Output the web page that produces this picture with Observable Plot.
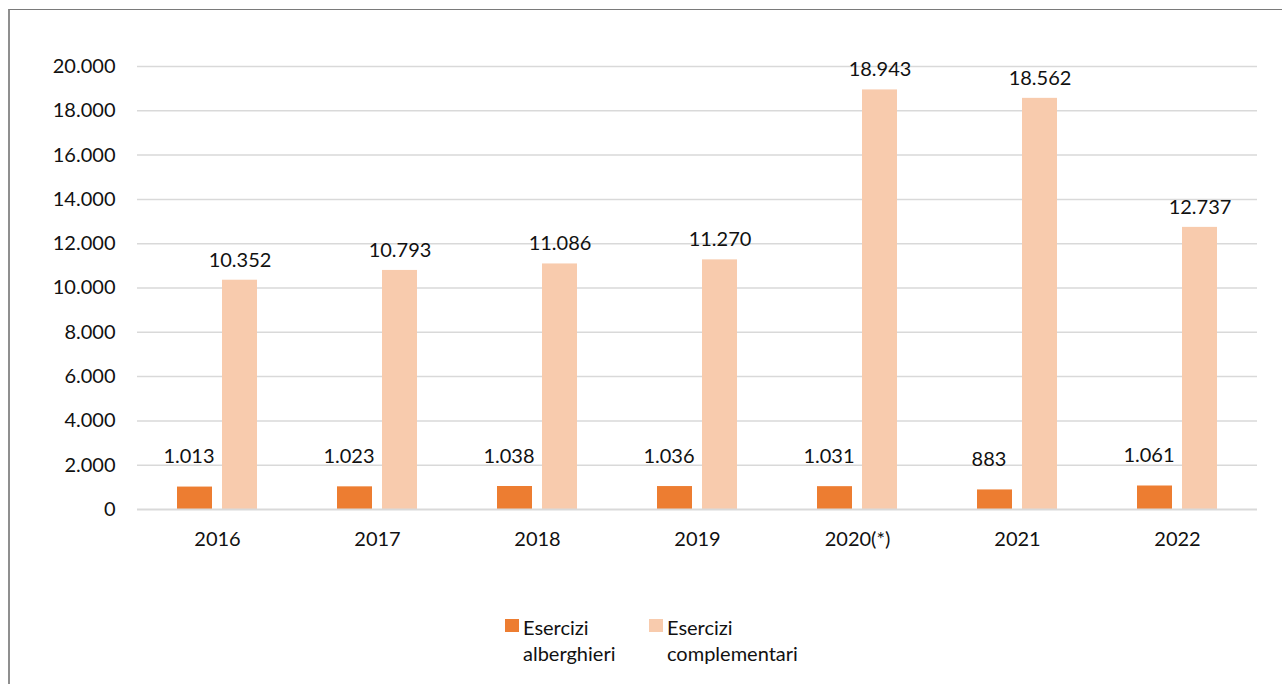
<!DOCTYPE html>
<html>
<head>
<meta charset="utf-8">
<script src="https://cdn.jsdelivr.net/npm/d3@7"></script>
<script src="https://cdn.jsdelivr.net/npm/@observablehq/plot@0.6"></script>
<style>
  html, body { margin: 0; padding: 0; background: #fff; overflow: hidden; width: 1282px; height: 684px; }
  #frame { position: absolute; left: 8px; top: 9px; width: 1400px; height: 800px;
           border-left: 2px solid #8f8f8f; border-top: 1px solid #7a7a7a; }
  #chart { position: absolute; left: 0; top: 0; }
  #legend { position: absolute; left: 505px; top: 614px; display: flex;
            font-family: Lato, sans-serif; font-size: 20px; line-height: 26px; color: #111; }
  .item { display: flex; align-items: flex-start; }
  .item .sw { width: 14px; height: 13px; margin-top: 5px; margin-right: 4px; flex: none; }
  .item.first { width: 144px; }
</style>
</head>
<body>
<div id="frame"></div>
<div id="chart"></div>
<div id="legend"></div>
<script>
const years = ["2016", "2017", "2018", "2019", "2020(*)", "2021", "2022"];
const alberghieri = [1013, 1023, 1038, 1036, 1031, 883, 1061];
const complementari = [10352, 10793, 11086, 11270, 18943, 18562, 12737];
const series = ["Esercizi alberghieri", "Esercizi complementari"];
const legendLines = [["Esercizi", "alberghieri"], ["Esercizi", "complementari"]];
const colors = ["#ED7D31", "#F8CBAD"];

const it = d3.formatLocale({decimal: ",", thousands: ".", grouping: [3], currency: ["€", ""]});
const fmt = it.format(",d");

const data = years.flatMap((y, i) => [
  {year: y, series: series[0], value: alberghieri[i]},
  {year: y, series: series[1], value: complementari[i]}
]);

const chart = Plot.plot({
  width: 1282,
  height: 570,
  marginLeft: 136,
  marginRight: 24,
  marginTop: 66,
  marginBottom: 61,
  style: {fontFamily: "Lato, sans-serif", fontSize: "20px", color: "#111", background: "transparent"},
  fx: {domain: years, padding: 0, axis: "bottom", tickSize: 0, tickPadding: 22, label: null},
  x: {domain: series, axis: null, paddingInner: 0.217, paddingOuter: 0.848},
  y: {domain: [0, 20000], ticks: 10, tickFormat: fmt, tickSize: 0, tickPadding: 22, label: null},
  color: {domain: series, range: colors},
  marks: [
    Plot.ruleY(d3.ticks(0, 20000, 10).filter(d => d > 0), {stroke: "#d9d9d9", strokeWidth: 1.5}),
    Plot.barY(data, {fx: "year", x: "series", y: "value", fill: "series"}),
    Plot.ruleY([0], {stroke: "#d9d9d9", strokeWidth: 2}),
    Plot.text(data.filter(d => d.series === series[0]), {
      fx: "year", x: "series", y: "value", text: d => fmt(d.value),
      dy: -30, dx: -6, fontSize: 20, fill: "#111"
    }),
    Plot.text(data.filter(d => d.series === series[1]), {
      fx: "year", x: "series", y: "value", text: d => fmt(d.value),
      dy: -20, fontSize: 20, fill: "#111"
    })
  ]
});
document.getElementById("chart").appendChild(chart);

const legend = document.getElementById("legend");
series.forEach((s, i) => {
  const item = document.createElement("div");
  item.className = "item" + (i === 0 ? " first" : "");
  const sw = document.createElement("span");
  sw.className = "sw";
  sw.style.background = colors[i];
  const txt = document.createElement("div");
  txt.innerHTML = legendLines[i].join("<br>");
  item.appendChild(sw);
  item.appendChild(txt);
  legend.appendChild(item);
});
</script>
</body>
</html>
